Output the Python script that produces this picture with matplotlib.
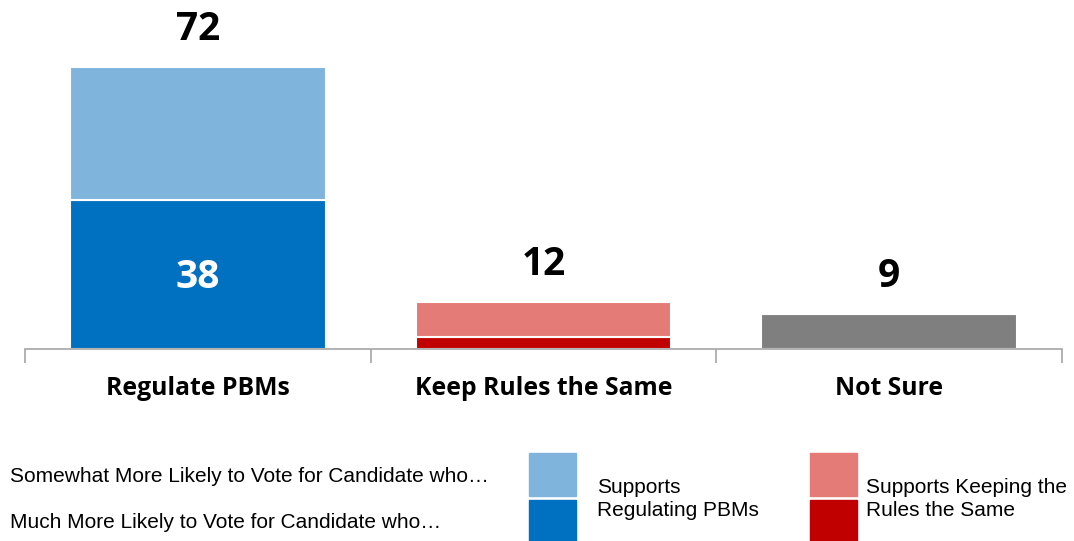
import numpy as np
import matplotlib.pyplot as plt
from matplotlib.patches import Rectangle

# Data
categories = ['Regulate PBMs', 'Keep Rules the Same', 'Not Sure']
much_more = [38, 3, 9]
somewhat_more = [34, 9, 0]
totals = [72, 12, 9]

dark_colors = ['#0070C0', '#C00000', '#7F7F7F']
light_colors = ['#7FB5DD', '#E57B77', '#7F7F7F']

W, H = 1074, 541
fig = plt.figure(figsize=(W / 100, H / 100), dpi=100)
ax = fig.add_axes([25 / W, 1 - 349 / H, 1037 / W, 313 / H])

x = np.arange(len(categories))
ax.bar(x, much_more, width=0.74, color=dark_colors, edgecolor='white', linewidth=1.5)
ax.bar(x, somewhat_more, width=0.74, bottom=much_more, color=light_colors,
       edgecolor='white', linewidth=1.5)

ax.set_xlim(-0.5, 2.5)
ax.set_ylim(0, 80)

# totals above bars
for i, t in enumerate(totals):
    ax.text(x[i], t + 4.6, str(t), ha='center', va='bottom', fontsize=28,
            fontweight='bold', family='Open Sans')
ax.text(x[0], much_more[0] / 2 - 0.8, str(much_more[0]), ha='center', va='center',
        fontsize=28, fontweight='bold', color='white', family='Open Sans')

for s in ['top', 'right', 'left']:
    ax.spines[s].set_visible(False)
ax.spines['bottom'].set_color('#A6A6A6')
ax.spines['bottom'].set_linewidth(1.2)
ax.set_yticks([])
ax.set_xticks([-0.5, 0.5, 1.5, 2.5], minor=False)
ax.set_xticklabels([])
ax.tick_params(axis='x', length=10, color='#A6A6A6', width=1.2)
for i, c in enumerate(categories):
    ax.text(x[i], -10, c, ha='center', va='center', fontsize=17.8,
            fontweight='bold', family='Open Sans')

# legend
leg_font = dict(family='Liberation Sans', fontsize=15, color='black')
fig.text(10 / W, 1 - 477 / H, 'Somewhat More Likely to Vote for Candidate who…',
         va='center', **leg_font)
fig.text(10 / W, 1 - 522 / H, 'Much More Likely to Vote for Candidate who…',
         va='center', **leg_font)
for x0, cols in [(529, (light_colors[0], dark_colors[0])),
                 (810, (light_colors[1], dark_colors[1]))]:
    fig.add_artist(Rectangle((x0 / W, 1 - 496 / H), 47 / W, 43 / H,
                             color=cols[0], transform=fig.transFigure))
    fig.add_artist(Rectangle((x0 / W, 0), 47 / W, 41 / H,
                             color=cols[1], transform=fig.transFigure))
fig.text(597 / W, 1 - 499 / H, 'Supports\nRegulating PBMs', va='center',
         linespacing=1.3, **leg_font)
fig.text(866 / W, 1 - 499 / H, 'Supports Keeping the\nRules the Same',
         va='center', linespacing=1.3, **leg_font)

fig.savefig('out.png', dpi=100)
